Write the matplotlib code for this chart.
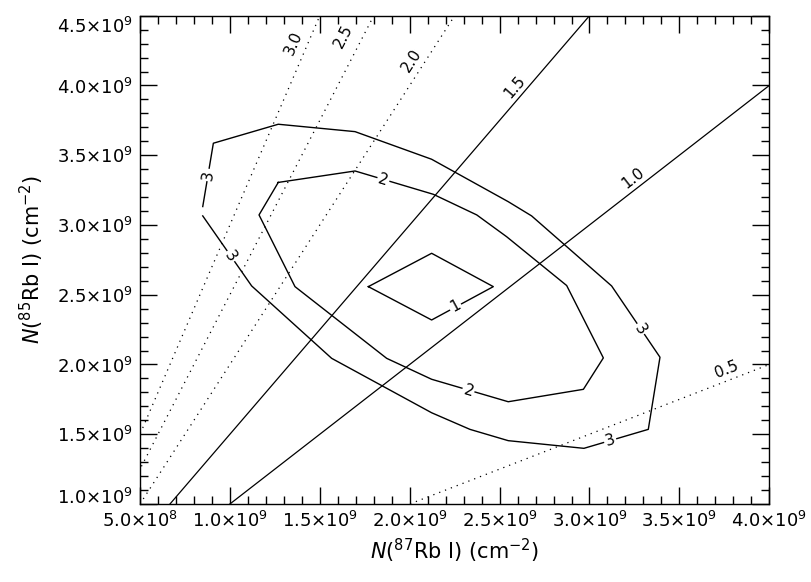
import numpy as np
import matplotlib
matplotlib.use("Agg")
import matplotlib.pyplot as plt
import matplotlib.transforms as mtransforms
from matplotlib.ticker import MultipleLocator

# ---- data (units of 1e9 cm^-2) ----
ratios = [0.5, 1.0, 1.5, 2.0, 2.5, 3.0]
ratio_labels = ["0.5", "1.0", "1.5", "2.0", "2.5", "3.0"]
ratio_styles = ["dotted", "solid", "solid", "dotted", "dotted", "dotted"]
ratio_label_x = [3.763, 3.244, 2.586, 2.011, 1.631, 1.353]
ratio_label_y = [1.961, 3.335, 3.992, 4.183, 4.350, 4.302]

c3_x = [0.849, 1.121, 1.566, 2.122, 2.335, 2.548, 2.969, 3.327, 3.392, 3.123,
        2.678, 2.548, 2.122, 1.696, 1.269, 0.908, 0.849]
c3_y = [3.065, 2.563, 2.044, 1.654, 1.535, 1.454, 1.399, 1.535, 2.052, 2.563,
        3.065, 3.167, 3.471, 3.669, 3.722, 3.586, 3.132]
c2_x = [1.269, 1.696, 2.131, 2.373, 2.539, 2.873, 3.077, 2.966, 2.548, 2.122,
        1.872, 1.362, 1.162, 1.269]
c2_y = [3.305, 3.387, 3.220, 3.072, 2.916, 2.566, 2.047, 1.822, 1.733, 1.894,
        2.044, 2.558, 3.072, 3.305]
c1_x = [1.770, 2.122, 2.465, 2.122, 1.770]
c1_y = [2.558, 2.797, 2.558, 2.319, 2.558]

# contour labels: (text, x, y, index of segment start in polyline)
c3_labels = [("3", 0.880, 3.358, 15), ("3", 1.001, 2.773, 0),
             ("3", 3.281, 2.252, 8), ("3", 3.114, 1.459, 6)]
c2_labels = [("2", 1.853, 3.323, 1), ("2", 2.326, 1.812, 8)]
c1_labels = [("1", 2.252, 2.419, 2)]

xticks = [0.5, 1.0, 1.5, 2.0, 2.5, 3.0, 3.5, 4.0]
xtick_labels = ["5.0×10$^{8}$", "1.0×10$^{9}$", "1.5×10$^{9}$", "2.0×10$^{9}$",
                "2.5×10$^{9}$", "3.0×10$^{9}$", "3.5×10$^{9}$", "4.0×10$^{9}$"]
yticks = [1.0, 1.5, 2.0, 2.5, 3.0, 3.5, 4.0, 4.5]
ytick_labels = ["1.0×10$^{9}$", "1.5×10$^{9}$", "2.0×10$^{9}$", "2.5×10$^{9}$",
                "3.0×10$^{9}$", "3.5×10$^{9}$", "4.0×10$^{9}$", "4.5×10$^{9}$"]

plt.rcParams['font.family'] = ['DejaVu Sans']
fig = plt.figure(figsize=(8.12, 5.82), dpi=100)
ax = fig.add_axes([140/812, 78/582, 629.3/812, 488.3/582])
ax.set_xlim(0.5, 4.0)
ax.set_ylim(1.0, 4.5)

def screen_angle(x0, y0, x1, y1):
    p0 = ax.transData.transform((x0, y0))
    p1 = ax.transData.transform((x1, y1))
    a = np.degrees(np.arctan2(p1[1]-p0[1], p1[0]-p0[0]))
    if a > 90: a -= 180
    if a < -90: a += 180
    return a

# ratio lines
xx = np.array([0.0, 4.5])
for r, lab, st, lx, ly in zip(ratios, ratio_labels, ratio_styles, ratio_label_x, ratio_label_y):
    ls = (0, (1, 4)) if st == "dotted" else "-"
    ax.plot(xx, r*xx, color='black', lw=0.9, linestyle=ls)
    ang = screen_angle(0, 0, 1, r)
    ax.text(lx, ly, lab, rotation=ang, rotation_mode='anchor', ha='center', va='center',
            fontsize=11)

for xs, ys, labs in [(c3_x, c3_y, c3_labels), (c2_x, c2_y, c2_labels), (c1_x, c1_y, c1_labels)]:
    ax.plot(xs, ys, color='black', lw=1.0)
    for t, lx, ly, i in labs:
        ang = screen_angle(xs[i], ys[i], xs[i+1], ys[i+1])
        ax.text(lx, ly, t, rotation=ang, ha='center', va='center', fontsize=11,
                rotation_mode='anchor',
                bbox=dict(facecolor='white', edgecolor='none', pad=1.0))

ax.set_xticks(xticks)
ax.set_xticklabels(xtick_labels)
ax.set_yticks(yticks)
ax.set_yticklabels(ytick_labels)
ax.xaxis.set_minor_locator(MultipleLocator(0.1))
ax.yaxis.set_minor_locator(MultipleLocator(0.1))
ax.tick_params(which='both', direction='in', top=True, right=True, width=1, labelsize=13, pad=5)
ax.tick_params(which='major', length=12)
ax.tick_params(which='minor', length=6)
for s in ax.spines.values():
    s.set_linewidth(1.0)

# shift end y tick labels inward like the reference
ylabs = ax.get_yticklabels()
ylabs[0].set_transform(ylabs[0].get_transform() +
                       mtransforms.ScaledTranslation(0, 6/72, fig.dpi_scale_trans))
ylabs[-1].set_transform(ylabs[-1].get_transform() +
                        mtransforms.ScaledTranslation(0, -7/72, fig.dpi_scale_trans))

ax.set_xlabel("$N$($^{87}$Rb I) (cm$^{-2}$)", fontsize=15, labelpad=4)
ax.set_ylabel("$N$($^{85}$Rb I) (cm$^{-2}$)", fontsize=15, labelpad=8)

fig.savefig("out.png", dpi=100)
